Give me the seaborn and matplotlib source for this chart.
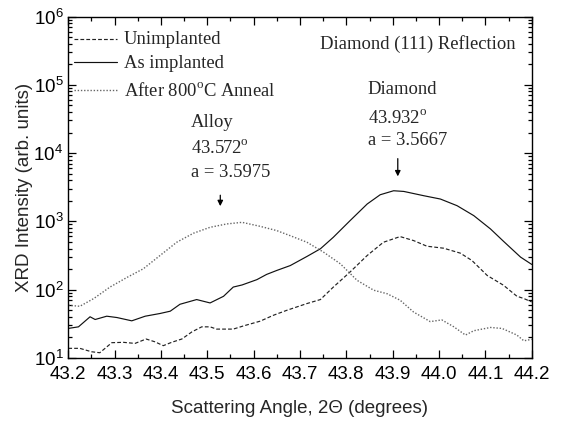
import numpy as np
import pandas as pd
import matplotlib
matplotlib.use("Agg")
import matplotlib.pyplot as plt
from matplotlib.ticker import LogLocator, MultipleLocator, FixedLocator
import seaborn as sns

# --- measured XRD scans around the diamond (111) reflection ---
unimpl_x = [43.200, 43.225, 43.250, 43.268, 43.294, 43.319, 43.344, 43.368, 43.387,
            43.405, 43.423, 43.445, 43.467, 43.488, 43.506, 43.520, 43.556, 43.578,
            43.614, 43.643, 43.672, 43.715, 43.744, 43.772, 43.808, 43.845, 43.880,
            43.916, 43.945, 43.974, 44.010, 44.046, 44.071, 44.104, 44.139, 44.168,
            44.183, 44.200]
unimpl_y = [13.8, 13.8, 12.3, 11.9, 16.7, 16.9, 16.3, 18.9, 17.2,
            15.1, 16.9, 18.9, 24.1, 28.5, 28.5, 26.4, 26.4, 29.4,
            34.5, 42.2, 49.9, 62.5, 71.5, 109, 181, 316, 494,
            598, 523, 432, 404, 342, 267, 161, 116, 80,
            74, 66]

implanted_x = [43.200, 43.222, 43.247, 43.258, 43.283, 43.305, 43.337, 43.366, 43.398,
               43.420, 43.441, 43.477, 43.506, 43.535, 43.556, 43.575, 43.607, 43.628,
               43.650, 43.679, 43.715, 43.744, 43.772, 43.808, 43.845, 43.873, 43.902,
               43.924, 43.967, 44.003, 44.039, 44.075, 44.111, 44.139, 44.176, 44.200]
implanted_y = [27, 28.5, 40, 36.5, 40.8, 39, 34.9, 40.8, 44.7,
               48.3, 61, 71.5, 63.8, 79.8, 109, 117, 140, 167,
               191, 225, 306, 396, 585, 1023, 1795, 2451, 2805,
               2741, 2373, 2121, 1694, 1212, 774, 511, 299, 234]

anneal_x = [43.200, 43.225, 43.255, 43.290, 43.326, 43.362, 43.398, 43.434, 43.470,
            43.506, 43.542, 43.575, 43.614, 43.650, 43.679, 43.715, 43.751, 43.787,
            43.823, 43.859, 43.888, 43.916, 43.945, 43.981, 44.006, 44.032, 44.057,
            44.075, 44.111, 44.136, 44.168, 44.183, 44.200]
anneal_y = [59, 57, 74, 109, 150, 202, 316, 494, 669,
            818, 916, 967, 845, 731, 616, 494, 353, 239,
            137, 98, 87, 70, 47, 34, 36, 28.5, 21.6,
            25, 27.9, 27, 21.6, 17.8, 18.7]

DEG = "$^{\\mathdefault{o}}$"
series_names = ["Unimplanted", "As implanted", "After 800" + DEG + "C Anneal"]

# peak annotations: label lines and arrow position (degrees)
alloy_lines = ["Alloy", "43.572" + DEG, "a = 3.5975"]
alloy_arrow_x = 43.528
diamond_lines = ["Diamond", "43.932" + DEG, "a = 3.5667"]
diamond_arrow_x = 43.911

x_ticks = [43.2, 43.3, 43.4, 43.5, 43.6, 43.7, 43.8, 43.9, 44.0, 44.1, 44.2]

frames = []
for name, xs, ys in zip(series_names,
                        [unimpl_x, implanted_x, anneal_x],
                        [unimpl_y, implanted_y, anneal_y]):
    frames.append(pd.DataFrame({"angle": xs, "intensity": ys, "sample": name}))
df = pd.concat(frames, ignore_index=True)

sns.set_theme(style="ticks")
plt.rcParams["font.family"] = ["Liberation Sans", "DejaVu Sans"]
plt.rcParams["mathtext.fontset"] = "custom"
plt.rcParams["mathtext.rm"] = "Liberation Sans"

fig = plt.figure(figsize=(5.61, 4.21), dpi=100)
ax = fig.add_axes([0.1217, 0.1499, 0.8261, 0.8109])

line_styles = {
    series_names[0]: dict(color="#222222", ls=(0, (3.2, 1.8)), lw=0.85),
    series_names[1]: dict(color="#111111", ls="-", lw=0.85),
    series_names[2]: dict(color="#666666", ls=(0, (1, 1.3)), lw=1.0),
}
for name in series_names:
    st = line_styles[name]
    sns.lineplot(data=df[df["sample"] == name], x="angle", y="intensity",
                 ax=ax, color=st["color"], linestyle=st["ls"], lw=st["lw"],
                 legend=False, estimator=None, sort=True)

ax.set_yscale("log")
ax.set_xlim(43.2, 44.2)
ax.set_ylim(10, 1e6)
ax.xaxis.set_major_locator(FixedLocator(x_ticks))
ax.set_xticklabels([f"{t:.1f}" for t in x_ticks])
ax.xaxis.set_minor_locator(MultipleLocator(0.05))
ax.yaxis.set_major_locator(LogLocator(base=10, numticks=10))
ax.yaxis.set_minor_locator(LogLocator(base=10, subs=np.arange(2, 10), numticks=20))

ax.tick_params(which="both", direction="in", top=True, right=True,
               labelsize=13.5, colors="black", width=0.9)
ax.tick_params(which="major", length=6)
ax.tick_params(which="minor", length=3)
ax.tick_params(axis="x", which="major", pad=6)
for sp in ax.spines.values():
    sp.set_linewidth(1.0)
    sp.set_color("black")

ax.set_xlabel("Scattering Angle, 2\u0398 (degrees)", fontsize=13.5, labelpad=12)
ax.set_ylabel("XRD Intensity (arb. units)", fontsize=13.5, labelpad=0)

serif = ["Liberation Serif", "DejaVu Serif"]
tfs = 13.4

# legend drawn as line samples with serif labels
leg_line_y = [4.66e5, 2.13e5, 8.5e4]
leg_text_y = [3.94e5, 1.76e5, 6.8e4]
for name, ly, ty in zip(series_names, leg_line_y, leg_text_y):
    st = line_styles[name]
    ax.plot([43.212, 43.305], [ly, ly], color=st["color"], linestyle=st["ls"],
            lw=st["lw"])
    ax.text(43.320, ty, name, family=serif, fontsize=tfs, va="baseline", ha="left")

ax.text(43.744, 3.33e5, "Diamond (111) Reflection", family=serif, fontsize=tfs,
        va="baseline", ha="left")

# peak labels and arrows
for lines, ys, tx in [(alloy_lines, [2.40e4, 1.01e4, 4.53e3], 43.464),
                      (diamond_lines, [7.35e4, 2.75e4, 1.31e4], 43.846)]:
    for s, yy in zip(lines, ys):
        ax.text(tx, yy, s, family=serif, fontsize=tfs, va="baseline", ha="left")

ax.annotate("", xy=(alloy_arrow_x, 1.52e3), xytext=(alloy_arrow_x, 2.65e3),
            arrowprops=dict(arrowstyle="-|>", color="black", lw=0.9,
                            mutation_scale=8))
ax.annotate("", xy=(diamond_arrow_x, 4.15e3), xytext=(diamond_arrow_x, 9.1e3),
            arrowprops=dict(arrowstyle="-|>", color="black", lw=0.9,
                            mutation_scale=8))

fig.savefig("out.png", dpi=100)
